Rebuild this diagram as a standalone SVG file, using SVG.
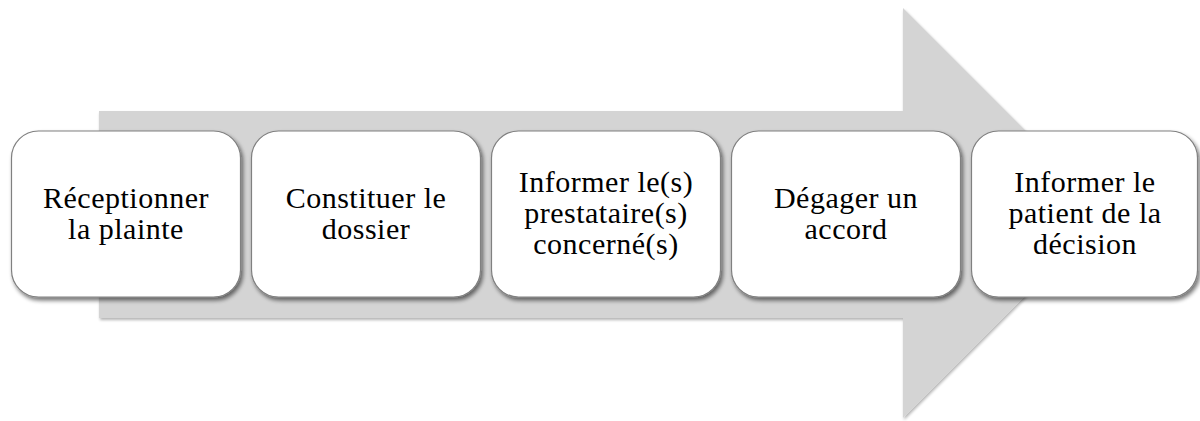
<svg xmlns="http://www.w3.org/2000/svg" width="1200" height="421" viewBox="0 0 1200 421">
  <style>
    .box { fill: #ffffff; stroke: #808080; stroke-width: 1.2; filter: url(#shadow); }
    .lbl { font-family: "Liberation Serif", "Times New Roman", serif; font-size: 30px; letter-spacing: 0.5px; fill: #000000; text-anchor: middle; }
  </style>
  <defs>
    <filter id="shadow" x="-10%" y="-10%" width="125%" height="130%">
      <feGaussianBlur in="SourceAlpha" stdDeviation="2"/>
      <feOffset dx="1.5" dy="2.5" result="b"/>
      <feComponentTransfer><feFuncA type="linear" slope="0.55"/></feComponentTransfer>
      <feMerge><feMergeNode/><feMergeNode in="SourceGraphic"/></feMerge>
    </filter>
    <filter id="ashadow" x="-5%" y="-5%" width="110%" height="115%">
      <feGaussianBlur in="SourceAlpha" stdDeviation="1.5"/>
      <feOffset dx="1" dy="2" result="b"/>
      <feComponentTransfer><feFuncA type="linear" slope="0.3"/></feComponentTransfer>
      <feMerge><feMergeNode/><feMergeNode in="SourceGraphic"/></feMerge>
    </filter>
  </defs>
  <rect width="1200" height="421" fill="#ffffff"/>
  <g id="arrow">
    <polygon points="99,111 903,111 903,8 1108,213 903,418 903,318 99,318" fill="#d4d4d4" filter="url(#ashadow)"/>
  </g>
  <g id="connectors"/>
  <g id="n1">
    <rect class="box" x="11.5" y="131" width="229" height="166" rx="27"/>
    <text class="lbl" x="126" y="208">Réceptionner</text>
    <text class="lbl" x="126" y="239">la plainte</text>
  </g>
  <g id="n2">
    <rect class="box" x="251.5" y="131" width="229" height="166" rx="27"/>
    <text class="lbl" x="366" y="208">Constituer le</text>
    <text class="lbl" x="366" y="239">dossier</text>
  </g>
  <g id="n3">
    <rect class="box" x="491.5" y="131" width="229" height="166" rx="27"/>
    <text class="lbl" x="606" y="192">Informer le(s)</text>
    <text class="lbl" x="606" y="223">prestataire(s)</text>
    <text class="lbl" x="606" y="254">concerné(s)</text>
  </g>
  <g id="n4">
    <rect class="box" x="731.5" y="131" width="229" height="166" rx="27"/>
    <text class="lbl" x="846" y="208">Dégager un</text>
    <text class="lbl" x="846" y="239">accord</text>
  </g>
  <g id="n5">
    <rect class="box" x="971.5" y="131" width="226" height="166" rx="27"/>
    <text class="lbl" x="1085" y="192">Informer le</text>
    <text class="lbl" x="1085" y="223">patient de la</text>
    <text class="lbl" x="1085" y="254">décision</text>
  </g>
</svg>
